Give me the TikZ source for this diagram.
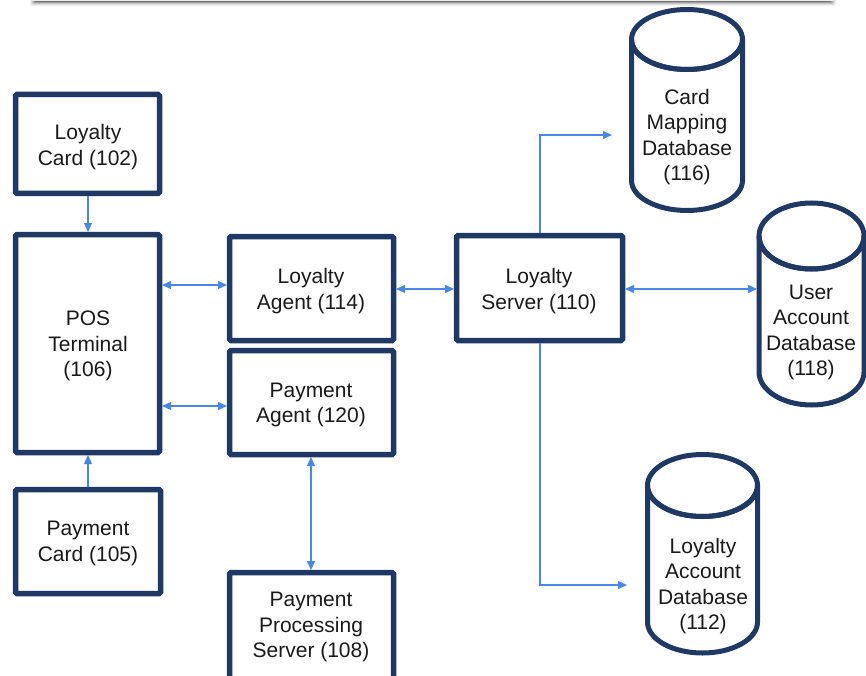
\documentclass[tikz,border=0pt]{standalone}
\usepackage{fontspec}
\setmainfont{Liberation Sans}
\usetikzlibrary{arrows.meta}
\definecolor{navy}{HTML}{1F3864}
\definecolor{linkblue}{HTML}{4A86E8}
\definecolor{txt}{HTML}{1A1A1A}
\tikzset{
  blockbox/.style={draw=navy, line width=5.5pt, rounded corners=1.5pt, fill=white},
  lbl/.style={align=center, text=txt, font=\fontsize{21}{25.5}\selectfont, inner sep=0pt, yshift=-2.2pt},
  link/.style={draw=linkblue, line width=1.4pt, -{Triangle[length=9pt,width=8pt]}},
  blink/.style={draw=linkblue, line width=1.4pt, {Triangle[length=9pt,width=8pt]}-{Triangle[length=9pt,width=8pt]}},
  dbline/.style={draw=navy, line width=5pt, fill=white},
}
% database drum: name, centre x, top-ellipse centre y, bottom-ellipse centre y, rx, ry
\newcommand{\drum}[6]{%
  \path[dbline] (#2-#5,#3) -- (#2-#5,#4) arc[start angle=180,end angle=360,x radius=#5,y radius=-#6]
     -- (#2+#5,#3) arc[start angle=0,end angle=180,x radius=#5,y radius=#6] -- cycle;
  \draw[dbline, fill=none] (#2,#3) ellipse[x radius=#5, y radius=#6];
  \coordinate (#1-w) at (#2-#5,#3);
}
\begin{document}
\begin{tikzpicture}[x=1pt,y=-1pt]
\useasboundingbox (0,0) rectangle (866,676);
\clip (0,0) rectangle (866,676);

% shadowed strip along the top edge
\foreach \k/\o in {0/0.05,1/0.08,2/0.12,3/0.18,4/0.28}{
  \fill[black, opacity=\o, rounded corners=2pt] (30+\k,-10) rectangle (836-\k,6-\k);
}
\fill[white!92!black] (32,-10) rectangle (834,1.5);

% blocks
\draw[blockbox] (15.5,94.5) rectangle (159.5,193.5);
\node[lbl] (lcard) at (88,145) {Loyalty\\Card (102)};
\coordinate (lcardS) at (88,196);

\draw[blockbox] (15.5,234.5) rectangle (159.5,452.5);
\node[lbl] (pos) at (88,344) {POS\\Terminal\\(106)};
\coordinate (posN) at (88,232);
\coordinate (posS) at (88,455);
\coordinate (posE1) at (162,285);
\coordinate (posE2) at (162,406);

\draw[blockbox] (15.5,489.5) rectangle (160.5,593.5);
\node[lbl] (pcard) at (88,541) {Payment\\Card (105)};
\coordinate (pcardN) at (88,487);

\draw[blockbox] (229.5,236.5) rectangle (393.5,340.5);
\node[lbl] (lagent) at (311,289) {Loyalty\\Agent (114)};
\coordinate (lagentW) at (227,285);
\coordinate (lagentE) at (396,289);

\draw[blockbox] (229.5,350.5) rectangle (393.5,454.5);
\node[lbl] (pagent) at (311,403) {Payment\\Agent (120)};
\coordinate (pagentW) at (227,406);
\coordinate (pagentS) at (311,457);

\draw[blockbox] (229.5,572.5) rectangle (393.5,700);
\node[lbl] (pps) at (311,625) {Payment\\Processing\\Server (108)};
\coordinate (ppsN) at (311,570);

\draw[blockbox] (456.5,235.5) rectangle (622.5,340.5);
\node[lbl] (lserver) at (539,289) {Loyalty\\Server (110)};
\coordinate (lserverW) at (454,289);
\coordinate (lserverE) at (625,289);
\coordinate (lserverN) at (540,233);
\coordinate (lserverS) at (540,343);

% databases
\drum{cmdb}{687}{39.5}{180.5}{55.5}{30}
\node[lbl] (cmdbT) at (687,135) {Card\\Mapping\\Database\\(116)};
\drum{uadb}{811.5}{236}{372}{52.5}{33}
\node[lbl] (uadbT) at (811,330) {User\\Account\\Database\\(118)};
\drum{ladb}{702.5}{485.5}{622}{55}{31}
\node[lbl] (ladbT) at (703,584) {Loyalty\\Account\\Database\\(112)};

\coordinate (cmdbIn) at (612,135);
\coordinate (uadbIn) at (757,289);
\coordinate (ladbIn) at (627,585);

% connectors
\draw[link] (lcardS) -- (posN);
\draw[link] (pcardN) -- (posS);
\draw[blink] (posE1) -- (lagentW);
\draw[blink] (posE2) -- (pagentW);
\draw[blink] (lagentE) -- (lserverW);
\draw[blink] (pagentS) -- (ppsN);
\draw[blink] (lserverE) -- (uadbIn);
\draw[link] (lserverN) |- (cmdbIn);
\draw[link] (lserverS) |- (ladbIn);
\end{tikzpicture}
\end{document}
